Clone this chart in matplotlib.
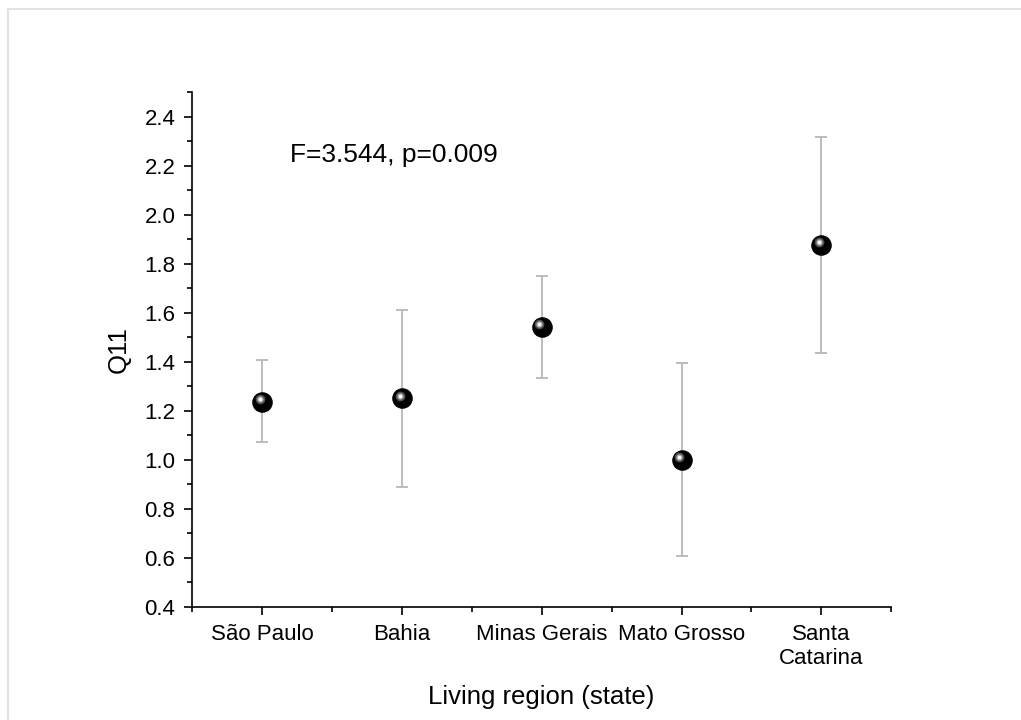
import numpy as np
import matplotlib.pyplot as plt
import matplotlib.transforms as mtransforms
from matplotlib.lines import Line2D

plt.rcParams['font.family'] = ['Liberation Sans', 'DejaVu Sans']

# data
regions = ['São Paulo', 'Bahia', 'Minas Gerais', 'Mato Grosso', 'Santa\nCatarina']
means = [1.238, 1.251, 1.541, 1.000, 1.876]
upper = [1.406, 1.611, 1.750, 1.394, 2.318]
lower = [1.071, 0.891, 1.335, 0.609, 1.435]
stat_text = 'F=3.544, p=0.009'

x = np.arange(1, len(regions) + 1)
means = np.array(means)
err = [means - np.array(lower), np.array(upper) - means]

fig = plt.figure(figsize=(10.21, 7.2), dpi=100, facecolor='white')
ax = fig.add_axes([0.188, 0.157, 0.685, 0.715])

# light frame around the picture (top and left edges only are visible)
fig.add_artist(Line2D([0.008, 1.0], [0.988, 0.988], transform=fig.transFigure,
                      color='#e2e2e2', linewidth=1.5))
fig.add_artist(Line2D([0.008, 0.008], [0.0, 0.988], transform=fig.transFigure,
                      color='#e2e2e2', linewidth=1.5))

ax.errorbar(x, means, yerr=err, fmt='none', ecolor='#b8b8b8', elinewidth=1.3,
            capsize=4.5, capthick=1.3, zorder=2)

# sphere-like markers: black ball with a soft highlight
ax.plot(x, means, 'o', markersize=13.8, color='black', markeredgecolor='black', zorder=3)
shift = mtransforms.offset_copy(ax.transData, fig=fig, x=-1.6, y=2.0, units='points')
ax.plot(x, means, 'o', markersize=7, color='#5a5a5a', markeredgewidth=0, alpha=0.9,
        transform=shift, zorder=4)
ax.plot(x, means, 'o', markersize=4.5, color='#b0b0b0', markeredgewidth=0,
        transform=shift, zorder=5)
ax.plot(x, means, 'o', markersize=2.5, color='white', markeredgewidth=0,
        transform=shift, zorder=6)

ax.text(1.2, 2.245, stat_text, fontsize=19, ha='left', va='center')

ax.set_xlim(0.5, 5.5)
ax.set_ylim(0.4, 2.5)
ax.set_xticks(x)
ax.set_xticklabels(regions, fontsize=16)
ax.set_xticks(np.arange(0.5, 5.6, 1.0), minor=True)
ax.set_yticks(np.arange(0.4, 2.41, 0.2))
ax.set_yticklabels([f'{v:.1f}' for v in np.arange(0.4, 2.41, 0.2)], fontsize=16)
ax.set_yticks(np.arange(0.5, 2.51, 0.2), minor=True)

ax.spines['top'].set_visible(False)
ax.spines['right'].set_visible(False)
ax.spines['left'].set_linewidth(1.2)
ax.spines['bottom'].set_linewidth(1.2)
ax.tick_params(axis='both', which='major', direction='out', length=6, width=1.2, pad=6)
ax.tick_params(axis='both', which='minor', direction='out', length=3.5, width=1.2)

ax.set_xlabel('Living region (state)', fontsize=18.5, labelpad=12)
ax.set_ylabel('Q11', fontsize=18.5, labelpad=10)

fig.savefig('out.png', dpi=100)
